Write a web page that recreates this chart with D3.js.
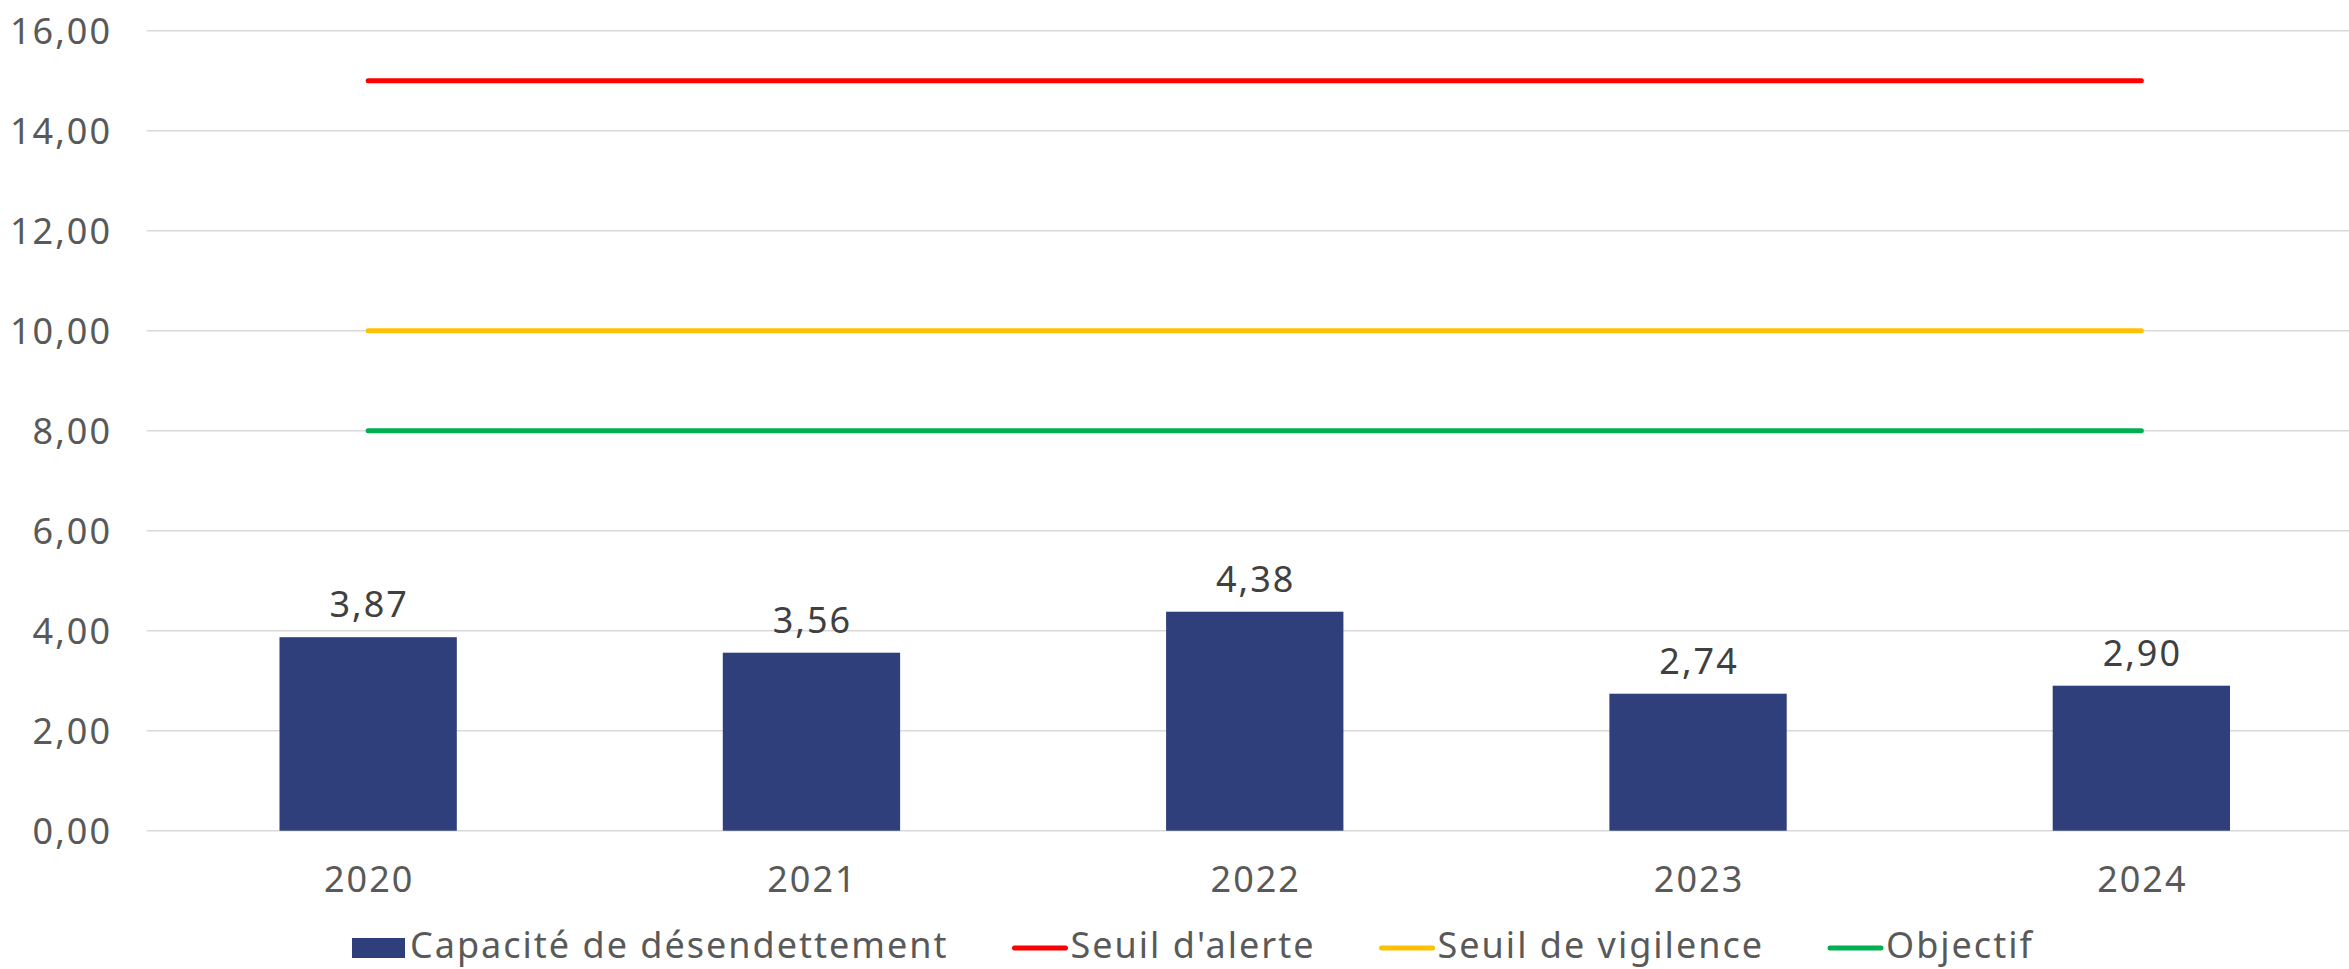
<!DOCTYPE html>
<html>
<head>
<meta charset="utf-8">
<script src="https://cdn.jsdelivr.net/npm/d3@7"></script>
<style>
  html, body { margin: 0; padding: 0; background: #fff; }
  svg text { font-family: "Noto Sans", "Open Sans", sans-serif; letter-spacing: 2px; }
</style>
</head>
<body>
<div id="chart"></div>
<script>
// Data
const years = ['2020', '2021', '2022', '2023', '2024'];
const capacite = [3.87, 3.56, 4.38, 2.74, 2.90];
const seuilAlerte = [15, 15, 15, 15, 15];
const seuilVigilence = [10, 10, 10, 10, 10];
const objectif = [8, 8, 8, 8, 8];
const yTicks = [0, 2, 4, 6, 8, 10, 12, 14, 16];
const legendLabels = ['Capacité de désendettement', "Seuil d'alerte", 'Seuil de vigilence', 'Objectif'];

const width = 2349, height = 969;
const fontSize = 36, spacing = 2;
const colors = { bar: '#2F3F7B', alerte: '#FF0000', vigilence: '#FFC000', objectif: '#00B050' };
const fmt = v => d3.format('.2f')(v).replace('.', ',');

const svg = d3.select('#chart').append('svg')
  .attr('width', width)
  .attr('height', height);

const x = d3.scaleBand().domain(years).range([146.5, 2363]).paddingInner(0.6).paddingOuter(0.3);
const y = d3.scaleLinear().domain([0, 16]).range([830.7, 30.7]);
const cx = d => x(d) + x.bandwidth() / 2;

// gridlines
svg.append('g').selectAll('line')
  .data(yTicks)
  .enter().append('line')
  .attr('x1', 146.5).attr('x2', width)
  .attr('y1', d => y(d)).attr('y2', d => y(d))
  .attr('stroke', '#D9D9D9').attr('stroke-width', 1.5);

// y labels (trailing letter-spacing compensated)
svg.append('g').selectAll('text')
  .data(yTicks)
  .enter().append('text')
  .attr('x', 110 + spacing).attr('y', d => y(d) + 13)
  .attr('text-anchor', 'end')
  .attr('font-size', fontSize).attr('fill', '#595959')
  .text(fmt);

// bars
svg.append('g').selectAll('rect')
  .data(capacite)
  .enter().append('rect')
  .attr('x', (d, i) => x(years[i]))
  .attr('width', x.bandwidth())
  .attr('y', d => y(d))
  .attr('height', d => y(0) - y(d))
  .attr('fill', colors.bar);

// bar labels
svg.append('g').selectAll('text')
  .data(capacite)
  .enter().append('text')
  .attr('x', (d, i) => cx(years[i]) + spacing / 2)
  .attr('y', d => y(d) - 20)
  .attr('text-anchor', 'middle')
  .attr('font-size', fontSize).attr('fill', '#404040')
  .text(fmt);

// threshold lines
const line = d3.line().x((d, i) => cx(years[i])).y(d => y(d));
[[seuilAlerte, colors.alerte], [seuilVigilence, colors.vigilence], [objectif, colors.objectif]]
  .forEach(([vals, c]) => {
    svg.append('path')
      .datum(vals)
      .attr('d', line)
      .attr('fill', 'none')
      .attr('stroke', c)
      .attr('stroke-width', 5)
      .attr('stroke-linecap', 'round');
  });

// x labels
svg.append('g').selectAll('text')
  .data(years)
  .enter().append('text')
  .attr('x', d => cx(d) + spacing / 2).attr('y', 892)
  .attr('text-anchor', 'middle')
  .attr('font-size', fontSize).attr('fill', '#595959')
  .text(d => d);

// legend
const legend = svg.append('g');
const legendColors = [colors.bar, colors.alerte, colors.vigilence, colors.objectif];
let lx = 352;
legendLabels.forEach((label, i) => {
  const g = legend.append('g');
  if (i === 0) {
    g.append('rect').attr('x', lx).attr('y', 938).attr('width', 53).attr('height', 20).attr('fill', legendColors[i]);
  } else {
    g.append('line').attr('x1', lx + 2).attr('x2', lx + 53).attr('y1', 948).attr('y2', 948)
      .attr('stroke', legendColors[i]).attr('stroke-width', 5).attr('stroke-linecap', 'round');
  }
  const t = g.append('text')
    .attr('x', lx + 58).attr('y', 958)
    .attr('font-size', fontSize).attr('fill', '#595959')
    .text(label);
  lx += 58 + t.node().getComputedTextLength() + 64;
});
</script>
</body>
</html>
